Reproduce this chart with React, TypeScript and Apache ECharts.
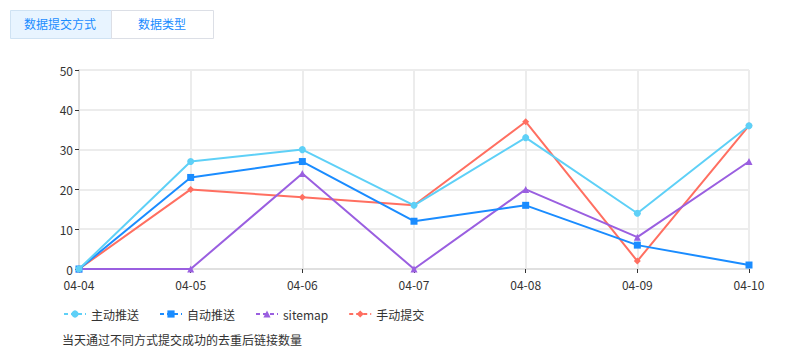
import React, { useEffect, useRef } from "react";
import * as echarts from "echarts";

const categories = ["04-04", "04-05", "04-06", "04-07", "04-08", "04-09", "04-10"];
const activePush = [0, 27, 30, 16, 33, 14, 36];
const autoPush = [0, 23, 27, 12, 16, 6, 1];
const sitemap = [0, 0, 24, 0, 20, 8, 27];
const manualSubmit = [0, 20, 18, 16, 37, 2, 36];
const seriesNames = ["主动推送", "自动推送", "sitemap", "手动提交"];
const tabs = ["数据提交方式", "数据类型"];
const caption = "当天通过不同方式提交成功的去重后链接数量";

const FONT = "'PingFang SC','Noto Sans CJK SC','Helvetica Neue',Arial,sans-serif";

export default function App() {
  const ref = useRef<HTMLDivElement>(null);
  useEffect(() => {
    if (!ref.current) return;
    const chart = echarts.init(ref.current, undefined, { renderer: "svg" });
    const colors = ["#5ed0f7", "#1a8cff", "#9a5fe0", "#ff6f61"];
    const symbols = ["circle", "rect", "triangle", "diamond"];
    const datas = [activePush, autoPush, sitemap, manualSubmit];
    chart.setOption({
      animation: false,
      textStyle: { fontFamily: FONT },
      color: colors,
      grid: { left: 79, right: 41, top: 70, bottom: 87 },
      legend: {
        left: 58,
        top: 303,
        itemWidth: 22,
        itemHeight: 9,
        itemGap: 20,
        textStyle: { fontSize: 12, color: "#333", fontFamily: FONT },
        lineStyle: { type: [4, 3] },
        data: seriesNames,
      },
      xAxis: {
        type: "category",
        boundaryGap: false,
        data: categories,
        axisLine: { lineStyle: { color: "#e0e0e0", width: 2 } },
        axisTick: { show: true, alignWithLabel: true, lineStyle: { color: "#333" }, length: 4 },
        axisLabel: { color: "#333", fontSize: 12, margin: 9 },
        splitLine: { show: true, lineStyle: { color: "#ececec", width: 2 } },
      },
      yAxis: {
        type: "value",
        min: 0,
        max: 50,
        interval: 10,
        axisLine: { show: true, lineStyle: { color: "#e0e0e0", width: 2 } },
        axisTick: { show: true, lineStyle: { color: "#333" }, length: 4 },
        axisLabel: { color: "#333", fontSize: 12, margin: 6 },
        splitLine: { show: true, lineStyle: { color: "#ececec", width: 2 } },
      },
      series: seriesNames.map((name, i) => ({
        name,
        type: "line",
        data: datas[i],
        symbol: symbols[i],
        symbolSize: 7,
        showSymbol: true,
        lineStyle: { width: 2, color: colors[i] },
        itemStyle: { color: colors[i] },
        z: 10 - i,
      })),
      graphic: [
        {
          type: "rect",
          left: 10,
          top: 10,
          shape: { width: 101, height: 28 },
          style: { fill: "#e8f4ff", stroke: "#cfe2f3", lineWidth: 1 },
        },
        {
          type: "rect",
          left: 111,
          top: 10,
          shape: { width: 102, height: 28 },
          style: { fill: "#ffffff", stroke: "#dcdfe6", lineWidth: 1 },
        },
        {
          type: "text",
          left: 24,
          top: 17,
          style: { text: tabs[0], fill: "#1a8cff", font: `12px ${FONT}` },
        },
        {
          type: "text",
          left: 138,
          top: 17,
          style: { text: tabs[1], fill: "#1a8cff", font: `12px ${FONT}` },
        },
        {
          type: "text",
          left: 62,
          top: 333,
          style: { text: caption, fill: "#333", font: `12px ${FONT}` },
        },
      ],
    });
    return () => chart.dispose();
  }, []);
  return (
    <div
      ref={ref}
      style={{ position: "absolute", left: 0, top: 0, width: 790, height: 356 }}
    />
  );
}
